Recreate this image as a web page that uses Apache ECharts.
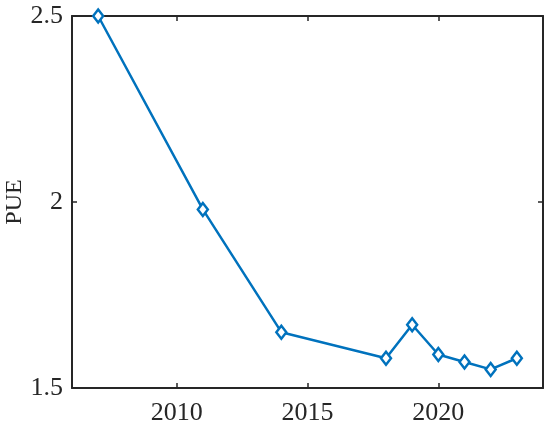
<!DOCTYPE html>
<html>
<head>
<meta charset="utf-8">
<script src="https://cdn.jsdelivr.net/npm/echarts@6/dist/echarts.min.js"></script>
<style>html,body{margin:0;padding:0;background:#fff;}#c{width:550px;height:432px;}</style>
</head>
<body>
<div id="c"></div>
<script>
const years = [2007, 2011, 2014, 2018, 2019, 2020, 2021, 2022, 2023];
const pue = [2.50, 1.98, 1.65, 1.58, 1.67, 1.59, 1.57, 1.55, 1.58];
const xTicks = [2010, 2015, 2020];
const yTicks = [1.5, 2, 2.5];

const FONT = '"Liberation Serif", "Times New Roman", Times, serif';
const chart = echarts.init(document.getElementById('c'));
const axisLine = {show: true, onZero: false, lineStyle: {color: '#262626', width: 2}};
const tickStyle = {lineStyle: {color: '#262626', width: 1.5}};
chart.setOption({
  animation: false,
  grid: {left: 72, right: 7, top: 16, bottom: 44, outerBoundsMode: 'none', containLabel: false},
  xAxis: [{
    type: 'value', min: 2006, max: 2024, position: 'bottom',
    axisLine: axisLine,
    axisTick: Object.assign({show: true, inside: true, length: 5, customValues: xTicks}, tickStyle),
    axisLabel: {customValues: xTicks, formatter: v => String(v), color: '#262626', fontFamily: FONT, fontSize: 26, margin: 12},
    splitLine: {show: false}
  }, {
    type: 'value', min: 2006, max: 2024, position: 'top',
    axisLine: axisLine,
    axisTick: Object.assign({show: true, inside: true, length: 5, customValues: xTicks}, tickStyle),
    axisLabel: {show: false},
    splitLine: {show: false}
  }],
  yAxis: [{
    type: 'value', min: 1.5, max: 2.5, interval: 0.5, position: 'left',
    name: 'PUE', nameLocation: 'middle', nameGap: 45, nameRotate: 90, nameMoveOverlap: false,
    nameTextStyle: {color: '#262626', fontFamily: FONT, fontSize: 24},
    axisLine: axisLine,
    axisTick: Object.assign({show: true, inside: true, length: 5}, tickStyle),
    axisLabel: {customValues: yTicks, formatter: v => String(v), color: '#262626', fontFamily: FONT, fontSize: 26, margin: 9},
    splitLine: {show: false}
  }, {
    type: 'value', min: 1.5, max: 2.5, interval: 0.5, position: 'right',
    axisLine: axisLine,
    axisTick: Object.assign({show: true, inside: true, length: 5}, tickStyle),
    axisLabel: {show: false},
    splitLine: {show: false}
  }],
  series: [{
    type: 'line',
    data: years.map((y, i) => [y, pue[i]]),
    lineStyle: {color: '#0072BD', width: 2.5},
    symbol: 'diamond', symbolSize: [10, 13],
    itemStyle: {color: '#ffffff', borderColor: '#0072BD', borderWidth: 2.5},
    z: 5
  }]
});
</script>
</body>
</html>
